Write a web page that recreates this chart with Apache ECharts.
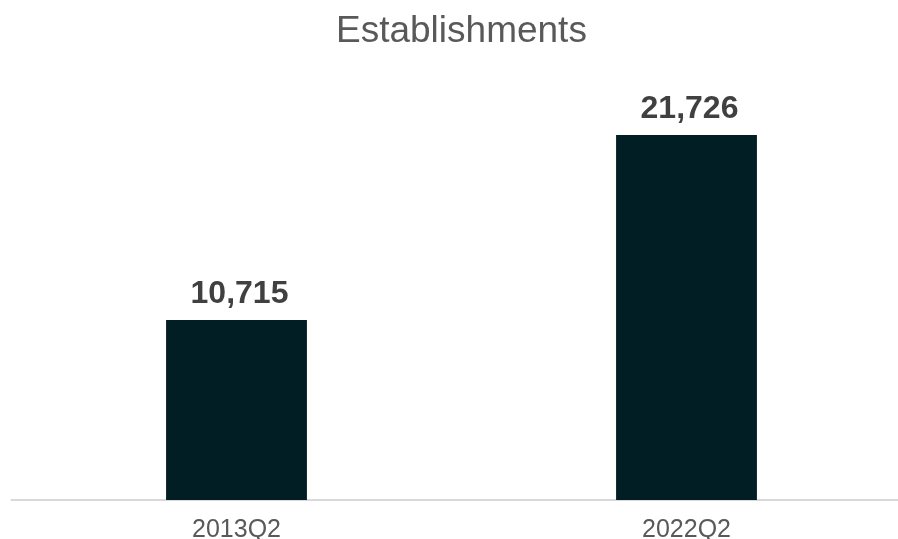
<!DOCTYPE html>
<html>
<head>
<meta charset="utf-8">
<script src="https://cdn.jsdelivr.net/npm/echarts@6/dist/echarts.min.js"></script>
<style>
  html, body { margin: 0; padding: 0; background: #fff; }
  #chart { width: 898px; height: 539px; }
</style>
</head>
<body>
<div id="chart"></div>
<script>
// Establishment counts by quarter
const categories = ['2013Q2', '2022Q2'];
const establishments = [10715, 21726];

const chart = echarts.init(document.getElementById('chart'));
chart.setOption({
  animation: false,
  title: {
    text: 'Establishments',
    left: 331,
    top: 8,
    textStyle: {
      fontFamily: 'Liberation Sans, Arial, sans-serif',
      fontSize: 37,
      fontWeight: 'normal',
      color: '#595959'
    }
  },
  grid: {
    left: 11.5,
    width: 900,
    top: 80,
    bottom: 39,
    outerBoundsMode: 'none'
  },
  xAxis: {
    type: 'category',
    data: categories,
    axisLine: { lineStyle: { color: '#d9d9d9', width: 2 } },
    axisTick: { show: false },
    axisLabel: {
      margin: 18,
      fontFamily: 'Liberation Sans, Arial, sans-serif',
      fontSize: 25,
      color: '#595959'
    }
  },
  yAxis: {
    type: 'value',
    min: 0,
    max: 25000,
    show: false,
    splitLine: { show: false }
  },
  series: [{
    type: 'bar',
    data: establishments,
    barWidth: '31.3%',
    itemStyle: { color: '#011e24' },
    label: {
      show: true,
      position: 'top',
      distance: 10,
      offset: [3, 0],
      fontFamily: 'Liberation Sans, Arial, sans-serif',
      fontSize: 32,
      fontWeight: 'bold',
      color: '#404040',
      formatter: p => p.value.toLocaleString('en-US')
    }
  }]
});
</script>
</body>
</html>
